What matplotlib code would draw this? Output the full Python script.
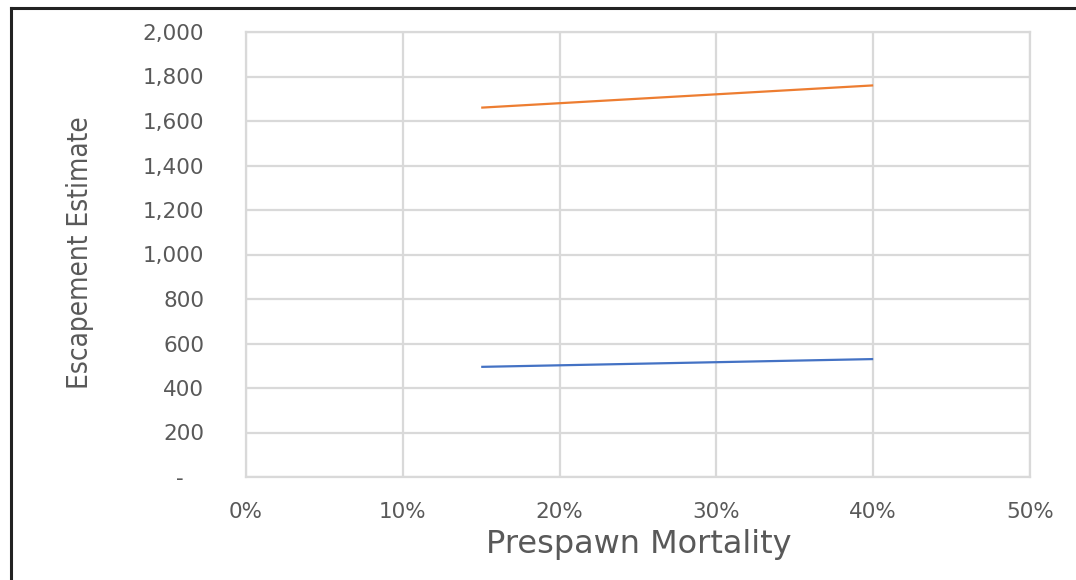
import matplotlib.pyplot as plt
from matplotlib.lines import Line2D
from matplotlib.ticker import FuncFormatter

# Prespawn mortality scenarios and resulting escapement estimates
mortality = [0.15, 0.40]
escapement_low = [495, 530]
escapement_high = [1660, 1760]

x_ticks = [0.0, 0.1, 0.2, 0.3, 0.4, 0.5]
y_ticks = [0, 200, 400, 600, 800, 1000, 1200, 1400, 1600, 1800, 2000]

grid_color = "#D9D9D9"
text_color = "#595959"

fig = plt.figure(figsize=(10.76, 5.80), dpi=100)
ax = fig.add_axes([246 / 1076, 1 - 477 / 580, (1030 - 246) / 1076, (477 - 32) / 580])

ax.plot(mortality, escapement_low, color="#4472C4", linewidth=1.6, solid_capstyle="butt")
ax.plot(mortality, escapement_high, color="#ED7D31", linewidth=1.6, solid_capstyle="butt")

ax.set_xlim(0, 0.5)
ax.set_ylim(0, 2000)
ax.set_xticks(x_ticks)
ax.set_yticks(y_ticks)
ax.xaxis.set_major_formatter(FuncFormatter(lambda v, p: f"{v:.0%}"))
ax.yaxis.set_major_formatter(FuncFormatter(lambda v, p: "-   " if v == 0 else f"{v:,.0f}"))

ax.grid(True, color=grid_color, linewidth=1.6)
ax.set_axisbelow(True)
for side in ax.spines.values():
    side.set_color(grid_color)
    side.set_linewidth(1.6)

ax.tick_params(axis="both", length=0, labelsize=15.5, labelcolor=text_color)
ax.tick_params(axis="y", pad=30)
ax.tick_params(axis="x", pad=18)

fig.text(639 / 1076, 1 - 545 / 580, "Prespawn Mortality", ha="center", va="center",
         fontsize=23, color=text_color)
fig.text(80 / 1076, 1 - 253 / 580, "Escapement Estimate", ha="center", va="center",
         rotation=90, fontsize=20, color=text_color, fontstretch="condensed",
         family=["DejaVu Sans"])

# frame around the chart area (left and top edges)
fig.add_artist(Line2D([11 / 1076, 11 / 1076], [0, 1 - 8 / 580], transform=fig.transFigure,
                      color="#222222", linewidth=2.2))
fig.add_artist(Line2D([11 / 1076, 1], [1 - 8 / 580, 1 - 8 / 580], transform=fig.transFigure,
                      color="#222222", linewidth=2.2))

fig.savefig("out.png", dpi=100)
